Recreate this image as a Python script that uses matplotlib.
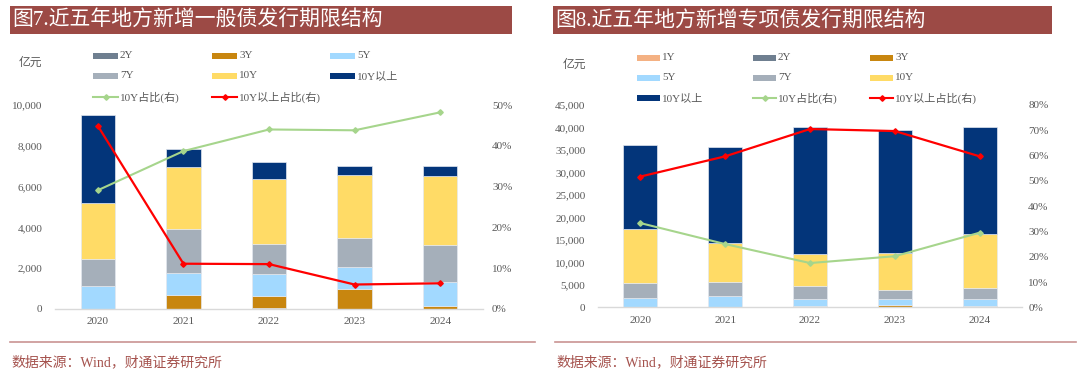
import matplotlib
matplotlib.use("Agg")
import matplotlib.pyplot as plt
from matplotlib.lines import Line2D
from matplotlib.patches import Rectangle
from matplotlib.ticker import FuncFormatter

plt.rcParams['font.family'] = ['Liberation Serif', 'Noto Sans CJK SC', 'DejaVu Sans']

years = ['2020', '2021', '2022', '2023', '2024']

# 图7 一般债 (亿元)
gen_2y = [0, 0, 65, 0, 0]
gen_3y = [0, 685, 555, 995, 165]
gen_5y = [1110, 1060, 1090, 1060, 1140]
gen_7y = [1350, 2185, 1500, 1435, 1845]
gen_10y = [2760, 3040, 3170, 3070, 3375]
gen_10yp = [4310, 860, 810, 440, 475]
gen_10y_share = [29.1, 38.7, 44.0, 43.8, 48.2]
gen_10yp_share = [44.9, 11.1, 11.0, 6.0, 6.3]

# 图8 专项债 (亿元)
sp_1y = [0, 0, 0, 0, 0]
sp_2y = [0, 0, 0, 0, 0]
sp_3y = [0, 0, 250, 450, 200]
sp_5y = [2000, 2450, 1600, 1400, 1580]
sp_7y = [3410, 3110, 2820, 2000, 2520]
sp_10y = [11940, 8820, 7120, 8150, 11930]
sp_10yp = [18680, 21350, 28390, 27500, 23800]
sp_10y_share = [33.3, 25.0, 17.5, 20.2, 29.5]
sp_10yp_share = [51.7, 59.7, 70.5, 69.7, 59.7]

C = {'1Y': '#F4B183', '2Y': '#6F7F90', '3Y': '#C8860F', '5Y': '#A2D9FF',
     '7Y': '#A5AFBA', '10Y': '#FFDB66', '10Y以上': '#03357A'}
GREEN = '#A6D58C'
RED = '#FF0000'
TITLE_BG = '#9C4A45'
TICK_C = '#595959'

W, H = 1080, 385
fig = plt.figure(figsize=(W / 100, H / 100), dpi=100)


def fx(px):
    return px / W


def fy(py):
    return 1 - py / H


def panel(ax_box, series, labels, share10, share10p, ymax, ystep, rmax, rstep,
          lpad, rpad):
    x0, y0, x1, y1 = ax_box
    ax = fig.add_axes([fx(x0), fy(y0), fx(x1) - fx(x0), fy(y1) - fy(y0)])
    xs = list(range(len(years)))
    bottom = [0] * len(years)
    for lab, vals in zip(labels, series):
        ax.bar(xs, vals, 0.4, bottom=bottom, color=C[lab], edgecolor='#E3E8EF',
               linewidth=0.5, zorder=2)
        bottom = [b + v for b, v in zip(bottom, vals)]
    ax.set_xlim(-0.5, len(years) - 0.5)
    ax.set_ylim(0, ymax)
    ax.set_yticks(range(0, ymax + 1, ystep))
    ax.yaxis.set_major_formatter(FuncFormatter(lambda v, p: f'{int(v):,}'))
    ax.set_xticks(xs)
    ax.set_xticklabels(years)
    for s in ['top', 'left', 'right']:
        ax.spines[s].set_visible(False)
    ax.spines['bottom'].set_color('#D9D9D9')
    ax.spines['bottom'].set_linewidth(1.0)
    ax.tick_params(axis='y', length=0, pad=lpad, labelsize=8, labelcolor=TICK_C)
    ax.tick_params(axis='x', length=0, pad=6, labelsize=8, labelcolor=TICK_C)
    ax2 = ax.twinx()
    ax2.set_ylim(0, rmax)
    ax2.set_yticks(range(0, rmax + 1, rstep))
    ax2.yaxis.set_major_formatter(FuncFormatter(lambda v, p: f'{int(v)}%'))
    for s in ['top', 'left', 'right', 'bottom']:
        ax2.spines[s].set_visible(False)
    ax2.tick_params(axis='y', length=0, pad=rpad, labelsize=8, labelcolor=TICK_C)
    ax2.plot(xs, share10, color=GREEN, lw=1.5, marker='D', ms=2.8, zorder=3)
    ax2.plot(xs, share10p, color=RED, lw=1.6, marker='D', ms=2.8, zorder=4)
    return ax, ax2


panel((55, 309, 483, 105),
      [gen_2y, gen_3y, gen_5y, gen_7y, gen_10y, gen_10yp],
      ['2Y', '3Y', '5Y', '7Y', '10Y', '10Y以上'],
      gen_10y_share, gen_10yp_share, 10000, 2000, 50, 10, 9, 6.5)

panel((598, 307.3, 1022, 105),
      [sp_1y, sp_2y, sp_3y, sp_5y, sp_7y, sp_10y, sp_10yp],
      ['1Y', '2Y', '3Y', '5Y', '7Y', '10Y', '10Y以上'],
      sp_10y_share, sp_10yp_share, 45000, 5000, 80, 10, 9, 4.5)


# title bars
def title_bar(x0, x1, tx, text):
    fig.add_artist(Rectangle((fx(x0), fy(34)), fx(x1) - fx(x0), fy(6) - fy(34),
                             transform=fig.transFigure, color=TITLE_BG, lw=0))
    fig.text(fx(tx), fy(20.5), text, color='white', fontsize=15,
             va='center', ha='left')


title_bar(10, 512, 12, '图7.近五年地方新增一般债发行期限结构')
title_bar(553, 1052, 555, '图8.近五年地方新增专项债发行期限结构')

# unit labels
fig.text(fx(30), fy(63), '亿元', fontsize=8.5, color=TICK_C, ha='center', va='center')
fig.text(fx(574), fy(65), '亿元', fontsize=8.5, color=TICK_C, ha='center', va='center')


# legends (manual, Excel-style fixed columns)
def leg_patch(x, y, w, lab):
    fig.add_artist(Rectangle((fx(x), fy(y + 3)), fx(w), 6 / H,
                             transform=fig.transFigure, color=C[lab], lw=0))
    fig.text(fx(x + w + 2), fy(y), lab, fontsize=8, color=TICK_C, va='center', ha='left')


def leg_line(x, y, w, color, lab):
    fig.add_artist(Line2D([fx(x), fx(x + w)], [fy(y), fy(y)], transform=fig.transFigure,
                          color=color, lw=1.5))
    fig.add_artist(Line2D([fx(x + w / 2)], [fy(y)], transform=fig.transFigure,
                          color=color, marker='D', ms=2.8, lw=0))
    fig.text(fx(x + w + 2), fy(y), lab, fontsize=8, color=TICK_C, va='center', ha='left')


lc = [93, 212, 330]
lr = [56, 76, 97]
leg_patch(lc[0], lr[0], 25, '2Y')
leg_patch(lc[1], lr[0], 25, '3Y')
leg_patch(lc[2], lr[0], 25, '5Y')
leg_patch(lc[0], lr[1], 25, '7Y')
leg_patch(lc[1], lr[1], 25, '10Y')
leg_patch(lc[2], lr[1], 25, '10Y以上')
leg_line(lc[0], lr[2], 25, GREEN, '10Y占比(右)')
leg_line(lc[1], lr[2], 25, RED, '10Y以上占比(右)')

rc = [637, 753, 870]
rr = [58, 78, 98]
leg_patch(rc[0], rr[0], 23, '1Y')
leg_patch(rc[1], rr[0], 23, '2Y')
leg_patch(rc[2], rr[0], 23, '3Y')
leg_patch(rc[0], rr[1], 23, '5Y')
leg_patch(rc[1], rr[1], 23, '7Y')
leg_patch(rc[2], rr[1], 23, '10Y')
leg_patch(rc[0], rr[2], 23, '10Y以上')
leg_line(rc[1], rr[2], 23, GREEN, '10Y占比(右)')
leg_line(rc[2], rr[2], 23, RED, '10Y以上占比(右)')

# footer
for a, b in [(10, 535), (555, 1076)]:
    fig.add_artist(Line2D([fx(a), fx(b)], [fy(342), fy(342)], transform=fig.transFigure,
                          color='#C99492', lw=1.2))
fig.text(fx(11), fy(362), '数据来源：Wind，财通证券研究所', fontsize=10, color='#A5524D',
         va='center', ha='left')
fig.text(fx(556), fy(362), '数据来源：Wind，财通证券研究所', fontsize=10, color='#A5524D',
         va='center', ha='left')

fig.savefig('out.png', dpi=100)
